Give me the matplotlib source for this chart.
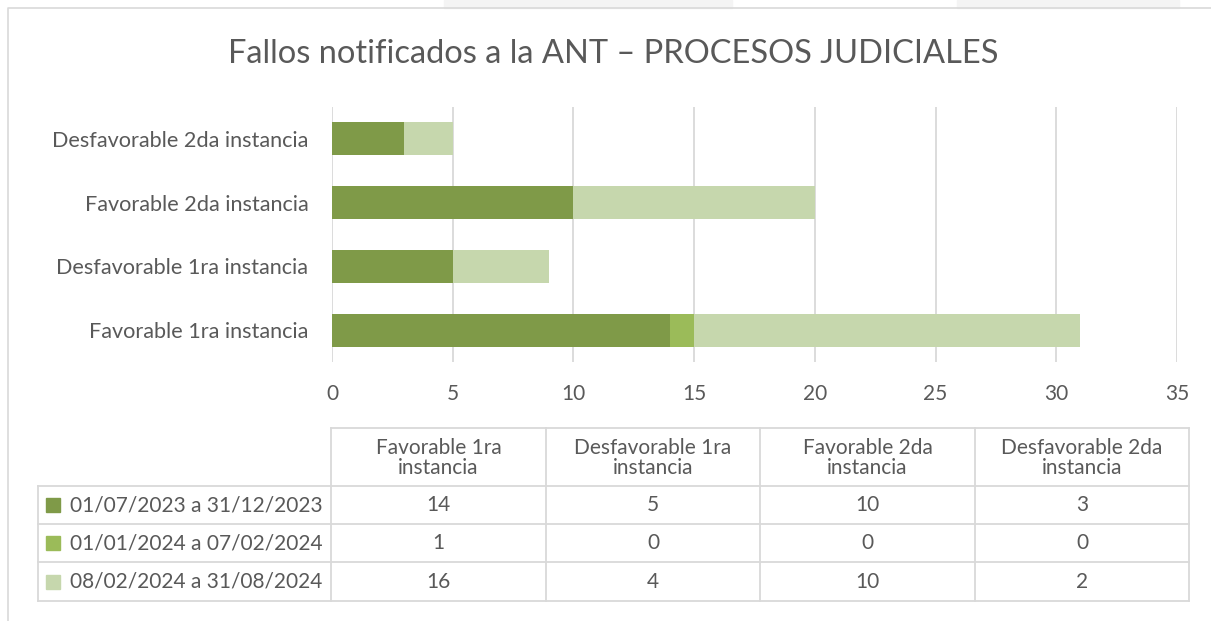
import numpy as np
import matplotlib
matplotlib.use("Agg")
import matplotlib.pyplot as plt
from matplotlib.patches import Rectangle
from matplotlib.lines import Line2D

plt.rcParams['font.family'] = ['Lato', 'DejaVu Sans']

# data
categories = ["Favorable 1ra instancia", "Desfavorable 1ra instancia",
              "Favorable 2da instancia", "Desfavorable 2da instancia"]
header_labels = ["Favorable 1ra\ninstancia", "Desfavorable 1ra\ninstancia",
                 "Favorable 2da\ninstancia", "Desfavorable 2da\ninstancia"]
periods = ["01/07/2023 a 31/12/2023", "01/01/2024 a 07/02/2024", "08/02/2024 a 31/08/2024"]
p1 = [14, 5, 10, 3]
p2 = [1, 0, 0, 0]
p3 = [16, 4, 10, 2]
series = [p1, p2, p3]
colors = ["#7F9A48", "#9BBB59", "#C6D7AD"]
title = "Fallos notificados a la ANT – PROCESOS JUDICIALES"

W, H = 1211, 621
txt = "#595959"
grid_c = "#D9D9D9"
fs = 15

fig = plt.figure(figsize=(W / 100, H / 100), dpi=100)

def fx(x):
    return x / W

def fy(y):
    return 1 - y / H

# faint background blocks above the chart frame
for x0, x1 in [(444, 732), (957, 1179)]:
    fig.patches.append(Rectangle((fx(x0), fy(8)), fx(x1 - x0), 8 / H,
                                 transform=fig.transFigure, color="#F4F4F4", zorder=0))
# chart frame
fig.lines.append(Line2D([fx(8), fx(8), fx(1211)], [fy(630), fy(8), fy(8)],
                        transform=fig.transFigure, color="#D9D9D9", lw=1.2))

fig.text(fx(613), fy(54), title, ha="center", va="center", fontsize=23.5, color=txt)

# bar chart
ax = fig.add_axes([fx(332), fy(362), fx(1177 - 332), (362 - 107) / H])
y = np.arange(len(categories))
left = np.zeros(len(categories))
for vals, c in zip(series, colors):
    ax.barh(y, vals, left=left, height=0.52, color=c, zorder=3)
    left += np.array(vals)

ax.set_xlim(0, 35)
ax.set_ylim(-0.5, len(categories) - 0.5)
ax.set_xticks(range(0, 36, 5))
ax.set_yticks(y)
ax.set_yticklabels(categories)
ax.xaxis.grid(True, color=grid_c, lw=1.3, zorder=0)
for s in ax.spines.values():
    s.set_visible(False)
ax.tick_params(axis="both", length=0, labelsize=fs, labelcolor=txt)
ax.tick_params(axis="y", labelsize=15.6)
ax.tick_params(axis="x", pad=16)
ax.tick_params(axis="y", pad=17)

# data table with legend keys
col_x = [331, 546, 760, 975, 1189]
row_y = [428, 486, 524, 562, 601]
row_left = 38

def hline(x0, x1, yy):
    fig.lines.append(Line2D([fx(x0), fx(x1)], [fy(yy), fy(yy)],
                            transform=fig.transFigure, color=grid_c, lw=1.3))

def vline(xx, y0, y1):
    fig.lines.append(Line2D([fx(xx), fx(xx)], [fy(y0), fy(y1)],
                            transform=fig.transFigure, color=grid_c, lw=1.3))

hline(col_x[0], col_x[-1], row_y[0])
for yy in row_y[1:]:
    hline(row_left, col_x[-1], yy)
for xx in col_x:
    vline(xx, row_y[0], row_y[-1])
vline(row_left, row_y[1], row_y[-1])

for j, lab in enumerate(header_labels):
    fig.text(fx((col_x[j] + col_x[j + 1]) / 2), fy((row_y[0] + row_y[1]) / 2 + 1), lab,
             ha="center", va="center", fontsize=fs, color=txt, linespacing=1.05)

for i, (name, vals, c) in enumerate(zip(periods, series, colors)):
    yc = (row_y[i + 1] + row_y[i + 2]) / 2
    fig.patches.append(Rectangle((fx(46), fy(yc + 7)), fx(14), 14 / H,
                                 transform=fig.transFigure, color=c))
    fig.text(fx(70), fy(yc), name, ha="left", va="center", fontsize=fs, color=txt)
    for j, v in enumerate(vals):
        fig.text(fx((col_x[j] + col_x[j + 1]) / 2), fy(yc), str(v),
                 ha="center", va="center", fontsize=fs, color=txt)

fig.savefig("out.png", dpi=100)
